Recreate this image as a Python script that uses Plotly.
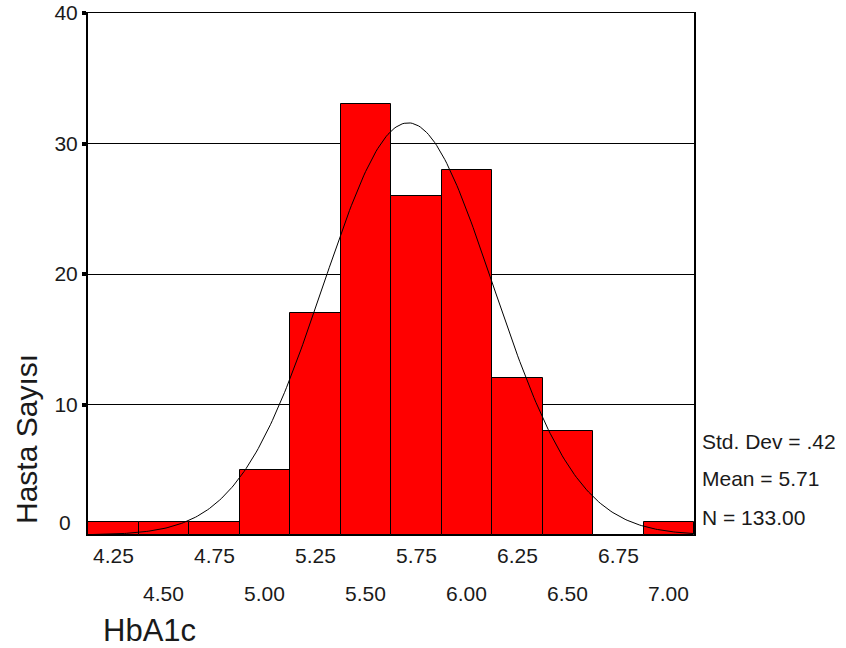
import numpy as np
import plotly.graph_objects as go

# Data
bin_centers = [4.25, 4.50, 4.75, 5.00, 5.25, 5.50, 5.75, 6.00, 6.25, 6.50, 6.75, 7.00]
counts = [1, 1, 1, 5, 17, 33, 26, 28, 12, 8, 0, 1]
tick_labels = ["4.25", "4.50", "4.75", "5.00", "5.25", "5.50", "5.75", "6.00", "6.25", "6.50", "6.75", "7.00"]
y_ticks = [10, 20, 30, 40]
std_dev = 0.42
mean = 5.71
n_total = 133
bin_width = 0.25

FONT = "Arial"
TXT = "#1a1a1a"
plot_top, plot_bottom = 13, 535


def py(pix):
    return (plot_bottom - pix) / (plot_bottom - plot_top)


fig = go.Figure()

fig.add_trace(go.Bar(
    x=bin_centers, y=counts, width=bin_width,
    marker=dict(color="#FF0000", line=dict(color="black", width=1)),
    showlegend=False, hoverinfo="x+y",
))

# fitted normal curve from reported statistics
xs = np.linspace(bin_centers[0] - bin_width / 2, bin_centers[-1] + bin_width / 2, 300)
ys = n_total * bin_width / (std_dev * np.sqrt(2 * np.pi)) * np.exp(-0.5 * ((xs - mean) / std_dev) ** 2)
fig.add_trace(go.Scatter(x=xs, y=ys, mode="lines", line=dict(color="black", width=1),
                         showlegend=False, hoverinfo="skip"))

# small dash tick marks under the x axis
fig.add_trace(go.Scatter(x=bin_centers, y=[-0.25] * len(bin_centers), mode="markers",
                         marker=dict(symbol="line-ew", size=6, line=dict(color="#555", width=1)),
                         cliponaxis=False, showlegend=False, hoverinfo="skip"))

annotations = []
for i, (xv, lab) in enumerate(zip(bin_centers, tick_labels)):
    annotations.append(dict(x=xv, xref="x", y=py(555 if i % 2 == 0 else 593), yref="paper",
                            text=lab, showarrow=False, yanchor="middle",
                            font=dict(family=FONT, size=21, color=TXT)))
annotations.append(dict(x=0, xref="paper", y=py(522), yref="paper", text="0", showarrow=False,
                        xanchor="right", yanchor="middle", xshift=-15,
                        font=dict(family=FONT, size=21, color=TXT)))
stats = ["Std. Dev = .42", "Mean = 5.71", "N = 133.00"]
for s, ypix in zip(stats, [441, 478, 517]):
    annotations.append(dict(x=1, xref="paper", y=py(ypix), yref="paper", text=s,
                            showarrow=False, xanchor="left", yanchor="middle", xshift=6,
                            font=dict(family=FONT, size=21, color=TXT)))

annotations.append(dict(x=0, xref="paper", y=py(630), yref="paper", text="HbA1c", showarrow=False,
                        xanchor="left", yanchor="middle", xshift=13,
                        font=dict(family=FONT, size=31, color=TXT)))
annotations.append(dict(x=0, xref="paper", y=py(439), yref="paper", text="Hasta Sayısı",
                        showarrow=False, textangle=-90, xanchor="center", yanchor="middle",
                        xshift=-62, font=dict(family=FONT, size=30, color=TXT)))

fig.update_layout(
    width=846, height=648,
    margin=dict(l=88, r=152, t=13, b=113, autoexpand=False),
    paper_bgcolor="white", plot_bgcolor="white",
    bargap=0,
    annotations=annotations,
    font=dict(family=FONT, color=TXT),
)
fig.update_xaxes(range=[bin_centers[0] - bin_width / 2, bin_centers[-1] + bin_width / 2],
                 showticklabels=False, ticks="", showgrid=False, zeroline=False, automargin=False,
                 showline=True, linecolor="black", linewidth=1, mirror=True)
fig.update_yaxes(range=[0, 40], tickvals=y_ticks, ticktext=[str(v) for v in y_ticks],
                 ticks="outside", ticklen=4, tickwidth=4, tickcolor="black", automargin=False,
                 tickfont=dict(family=FONT, size=21, color=TXT),
                 showgrid=True, gridcolor="black", gridwidth=1, zeroline=False,
                 showline=True, linecolor="black", linewidth=2, mirror=True)

fig.write_html("out.html")
